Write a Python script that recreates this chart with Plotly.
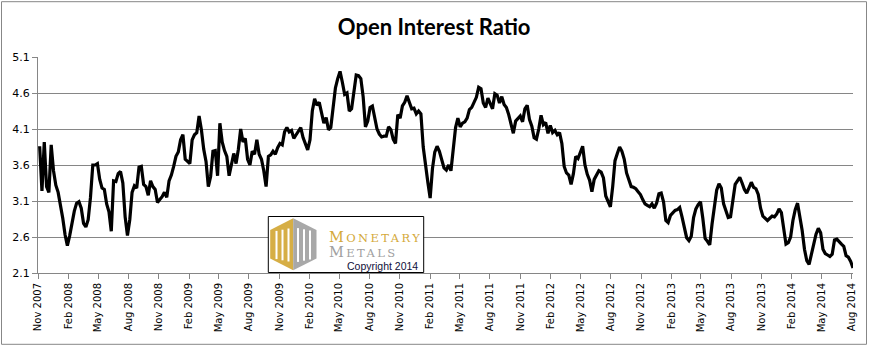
import pandas as pd
import plotly.graph_objects as go

# ---------------- data (weekly) ----------------
series_start = "2007-11-06"

ratio_nov07_mar09 = [
    3.86, 3.24, 3.92, 3.30, 3.22, 3.88, 3.52, 3.32, 3.22, 3.05,
    2.86, 2.63, 2.48, 2.62, 2.81, 2.96, 3.07, 3.09, 3.00, 2.79,
    2.74, 2.84, 3.15, 3.60, 3.60, 3.62, 3.40, 3.28, 3.26, 3.06,
    2.95, 2.68, 3.38, 3.37, 3.48, 3.51, 3.35, 2.88, 2.62, 2.84,
    3.22, 3.31, 3.28, 3.57, 3.58, 3.33, 3.30, 3.18, 3.38, 3.30,
    3.26, 3.08, 3.12, 3.16, 3.22, 3.15, 3.38, 3.46, 3.58, 3.72,
    3.78, 3.95, 4.02, 3.68, 3.65, 3.62, 3.95, 4.02, 4.05, 4.28,
    4.09, 3.82,
]
ratio_mar09_jun10 = [
    3.65, 3.30, 3.44, 3.79, 3.80, 3.45, 4.18, 3.92, 3.80, 3.72,
    3.45, 3.60, 3.76, 3.62, 3.82, 4.10, 3.92, 3.97, 3.68, 3.60,
    3.79, 3.75, 3.95, 3.75, 3.68, 3.52, 3.30, 3.72, 3.74, 3.79,
    3.75, 3.84, 3.90, 3.88, 4.06, 4.12, 4.06, 4.08, 3.97, 4.02,
    4.08, 4.12, 3.98, 3.88, 3.81, 3.95, 4.35, 4.52, 4.43, 4.47,
    4.33, 4.18, 4.26, 4.09, 4.12, 4.40, 4.67, 4.80, 4.90, 4.75,
    4.58, 4.60, 4.35, 4.38, 4.65, 4.85,
]
ratio_jun10_dec11 = [
    4.84, 4.80, 4.55, 4.13, 4.21, 4.40, 4.42, 4.28, 4.10, 4.03,
    3.99, 4.00, 4.00, 4.13, 4.09, 3.96, 3.90, 4.30, 4.25, 4.42,
    4.47, 4.56, 4.46, 4.38, 4.39, 4.31, 4.35, 4.31, 3.85, 3.58,
    3.36, 3.14, 3.55, 3.78, 3.86, 3.79, 3.69, 3.56, 3.53, 3.60,
    3.52, 3.80, 4.12, 4.25, 4.13, 4.18, 4.20, 4.25, 4.37, 4.40,
    4.47, 4.54, 4.68, 4.66, 4.46, 4.40, 4.53, 4.44, 4.38, 4.59,
    4.57, 4.46, 4.55, 4.44, 4.40, 4.30, 4.17, 4.04, 4.21, 4.24,
    4.28, 4.20, 4.38, 4.43,
]
ratio_dec11_mar13 = [
    4.23, 4.14, 3.98, 3.96, 4.10, 4.29, 4.16, 4.19, 4.04, 4.15,
    4.05, 4.08, 4.02, 4.05, 3.90, 3.58, 3.49, 3.46, 3.33, 3.48,
    3.72, 3.69, 3.78, 3.86, 3.60, 3.47, 3.39, 3.23, 3.40, 3.46,
    3.52, 3.50, 3.42, 3.17, 3.09, 3.02, 3.30, 3.66, 3.76, 3.85,
    3.79, 3.68, 3.49, 3.39, 3.30, 3.29, 3.27, 3.23, 3.19, 3.12,
    3.06, 3.04, 3.02, 3.06, 3.00, 3.07, 3.20, 3.21, 3.09, 2.83,
    2.80, 2.90, 2.94, 2.97, 2.98, 3.01,
]
ratio_mar13_aug14 = [
    2.88, 2.73, 2.59, 2.55, 2.61, 2.87, 2.99, 3.05, 3.09, 2.86,
    2.58, 2.54, 2.49, 2.78, 3.02, 3.25, 3.34, 3.28, 3.06, 2.95,
    2.87, 2.88, 3.10, 3.33, 3.38, 3.43, 3.35, 3.26, 3.21, 3.28,
    3.36, 3.29, 3.27, 3.19, 3.00, 2.89, 2.86, 2.83, 2.86, 2.89,
    2.88, 2.92, 2.99, 2.94, 2.72, 2.50, 2.52, 2.60, 2.83, 2.98,
    3.07, 2.90, 2.69, 2.43, 2.27, 2.22, 2.35, 2.50, 2.64, 2.72,
    2.66, 2.43, 2.37, 2.35, 2.33, 2.36, 2.56, 2.57, 2.53, 2.50,
    2.47, 2.34, 2.32, 2.26, 2.17,
]

y_ticks = [2.1, 2.6, 3.1, 3.6, 4.1, 4.6, 5.1]
x_tick_dates = [
    "2007-11-01", "2008-02-01", "2008-05-01", "2008-08-01", "2008-11-01",
    "2009-02-01", "2009-05-01", "2009-08-01", "2009-11-01", "2010-02-01",
    "2010-05-01", "2010-08-01", "2010-11-01", "2011-02-01", "2011-05-01",
    "2011-08-01", "2011-11-01", "2012-02-01", "2012-05-01", "2012-08-01",
    "2012-11-01", "2013-02-01", "2013-05-01", "2013-08-01", "2013-11-01",
    "2014-02-01", "2014-05-01", "2014-08-01",
]
x_tick_labels = [
    "Nov 2007", "Feb 2008", "May 2008", "Aug 2008", "Nov 2008",
    "Feb 2009", "May 2009", "Aug 2009", "Nov 2009", "Feb 2010",
    "May 2010", "Aug 2010", "Nov 2010", "Feb 2011", "May 2011",
    "Aug 2011", "Nov 2011", "Feb 2012", "May 2012", "Aug 2012",
    "Nov 2012", "Feb 2013", "May 2013", "Aug 2013", "Nov 2013",
    "Feb 2014", "May 2014", "Aug 2014",
]

values = (ratio_nov07_mar09 + ratio_mar09_jun10 + ratio_jun10_dec11
          + ratio_dec11_mar13 + ratio_mar13_aug14)
dates = pd.date_range(series_start, periods=len(values), freq="7D")

# ---------------- layout geometry ----------------
W, H = 870, 346
L, R, T, B = 38, 853, 57, 273
GRID = "#868686"


def fx(px):
    return (px - L) / (R - L)


def fy(py):
    return (B - py) / (B - T)


fig = go.Figure()
fig.add_trace(go.Scatter(
    x=dates, y=values, mode="lines",
    line=dict(color="black", width=3.2),
    hoverinfo="x+y",
))

shapes = []
# outer chart border
shapes.append(dict(type="rect", xref="paper", yref="paper",
                   x0=fx(1.5), x1=fx(866.5), y0=fy(344.3), y1=fy(1.7),
                   line=dict(color="#878787", width=1), layer="above"))
# logo box
shapes.append(dict(type="rect", xref="paper", yref="paper",
                   x0=fx(268.3), x1=fx(423.7), y0=fy(272.5), y1=fy(216.5),
                   line=dict(color="black", width=1), fillcolor="white",
                   layer="above"))


def poly(points, color):
    p = "M " + " L ".join(f"{fx(a):.5f},{fy(b):.5f}" for a, b in points) + " Z"
    return dict(type="path", xref="paper", yref="paper", path=p,
                fillcolor=color, line=dict(width=0), layer="above")


GOLD = "#D6AE45"
GREY = "#A8A8A8"
shapes.append(poly([(293.2, 218.3), (270.2, 230.0), (270.2, 258.5), (293.2, 270.2)], GOLD))
shapes.append(poly([(293.2, 218.3), (316.5, 230.0), (316.5, 258.5), (293.2, 270.2)], GREY))
for x0 in (275.5, 281.5, 287.5):
    shapes.append(poly([(x0, 232 - (x0 - 270) * 0.2), (x0 + 2, 232 - (x0 - 270) * 0.2),
                        (x0 + 2, 258 + (x0 - 270) * 0.2), (x0, 258 + (x0 - 270) * 0.2)], "white"))
for x0 in (297.0, 303.0, 309.0):
    shapes.append(poly([(x0, 232 - (316.5 - x0) * 0.2), (x0 + 2, 232 - (316.5 - x0) * 0.2),
                        (x0 + 2, 258 + (316.5 - x0) * 0.2), (x0, 258 + (316.5 - x0) * 0.2)], "white"))

LS = "letter-spacing:2.4px"
annotations = [
    dict(xref="paper", yref="paper", x=fx(326.5), y=fy(244.5),
         xanchor="left", yanchor="middle", showarrow=False, align="left",
         text=(f"<span style='font-size:14.5px;{LS}'>M</span>"
               f"<span style='{LS}'>ONETARY</span><br>"
               f"<span style='font-size:14.5px;color:#A0A0A0;{LS}'>M</span>"
               f"<span style='color:#A0A0A0;{LS}'>ETALS</span>"),
         font=dict(family="DejaVu Serif", size=11.5, color="#D4A93A")),
    dict(xref="paper", yref="paper", x=fx(419.5), y=fy(266.3),
         xanchor="right", yanchor="middle", showarrow=False,
         text="Copyright 2014",
         font=dict(family="Liberation Sans", size=10.5, color="#10103a")),
]

fig.update_layout(
    width=W, height=H,
    margin=dict(l=L, r=W - R, t=T, b=H - B),
    paper_bgcolor="white", plot_bgcolor="white",
    showlegend=False,
    title=dict(text="Open Interest Ratio", x=0.499, xanchor="center",
               y=1 - 27 / H, yanchor="middle",
               font=dict(family="Lato", size=22, color="black", weight="bold")),
    xaxis=dict(type="date", range=["2007-11-01", "2014-08-05"],
               tickmode="array", tickvals=x_tick_dates, ticktext=x_tick_labels,
               tickangle=-90, ticks="outside", ticklen=5, tickcolor=GRID,
               showline=True, linecolor=GRID, linewidth=1,
               showgrid=False, zeroline=False,
               tickfont=dict(family="DejaVu Sans", size=10, color="black")),
    yaxis=dict(range=[2.1, 5.1], tickmode="array", tickvals=y_ticks,
               ticktext=[f"{v:.1f}" for v in y_ticks],
               ticks="outside", ticklen=5, tickcolor=GRID,
               showline=True, linecolor=GRID, linewidth=1,
               showgrid=True, gridcolor=GRID, gridwidth=1, zeroline=False,
               tickfont=dict(family="DejaVu Sans", size=11, color="black")),
    shapes=shapes,
    annotations=annotations,
)

fig.write_html("out.html")
